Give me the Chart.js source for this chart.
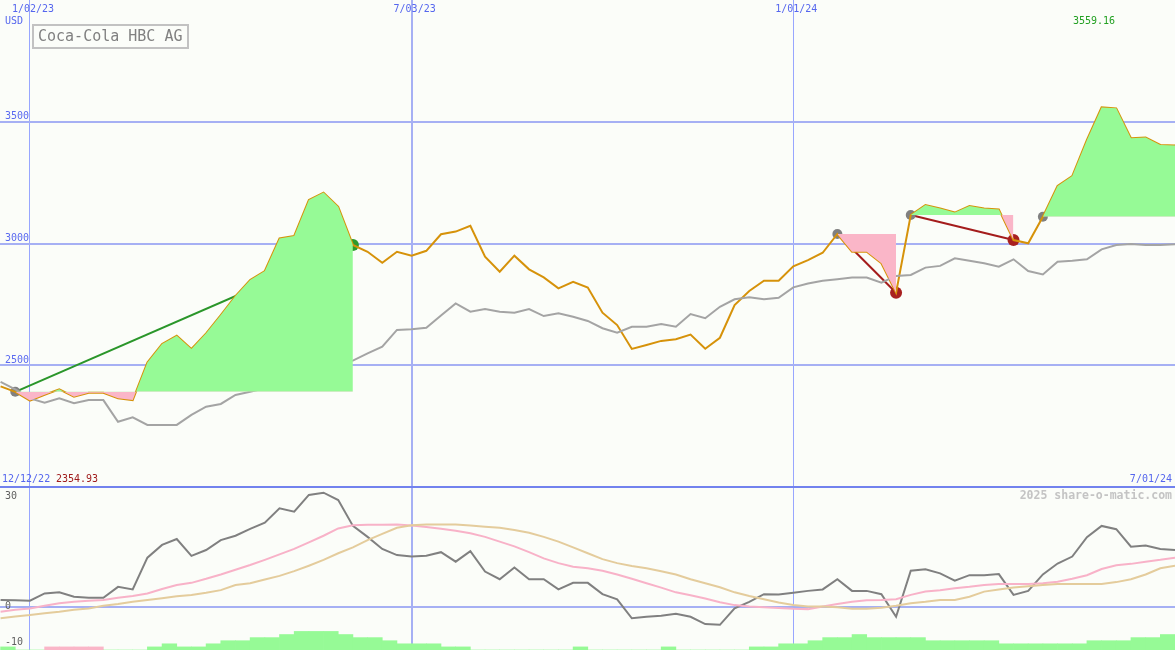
<!DOCTYPE html>
<html><head><meta charset="utf-8">
<script src="https://cdn.jsdelivr.net/npm/chart.js@4.4.1/dist/chart.umd.min.js"></script>
<style>html,body{margin:0;padding:0;background:#fbfdf9;}canvas{display:block;}</style>
</head><body>
<canvas id="c" width="1175" height="650"></canvas>
<script>
// ---- data (weekly, week 0 = 1/02/23) ----
const firstWeek = -2;
const price = [2413,2391,2355,2379,2401,2371,2387,2387,2364,2357,
  2511,2587,2621,2567,2631,2706,2784,2850,2887,3021,
  3031,3179,3209,3151,2994,2966,2921,2966,2950,2970,
  3038,3049,3073,2946,2884,2950,2894,2861,2816,2843,
  2819,2716,2665,2567,2583,2600,2607,2626,2568,2613,
  2747,2805,2847,2847,2906,2932,2962,3039,2966,2966,
  2919,2798,3117,3158,3144,3127,3154,3144,3140,3014,
  3001,3110,3236,3277,3425,3559,3555,3432,3435,3405,3402];
const average = [2432,2401,2364,2346,2364,2344,2357,2357,2268,2286,
  2255,2255,2255,2296,2330,2341,2378,2391,2405,2446,
  2469,2515,2522,2515,2519,2549,2576,2645,2648,2654,
  2704,2754,2720,2731,2720,2716,2731,2702,2713,2699,
  2682,2652,2634,2658,2658,2669,2658,2710,2693,2740,
  2771,2779,2771,2777,2820,2836,2847,2853,2860,2860,
  2839,2867,2871,2901,2908,2939,2929,2919,2905,2935,
  2887,2873,2925,2929,2935,2976,2994,2998,2994,2994,2997];
const oscillator = [2.0,1.9,1.8,3.8,4.1,2.9,2.6,2.6,5.6,4.9,
  13.6,17.1,18.7,14.1,15.7,18.4,19.6,21.5,23.2,27.1,
  26.2,30.8,31.4,29.4,22.3,19.3,16.0,14.3,13.9,14.1,
  15.1,12.5,15.4,9.8,7.7,10.9,7.7,7.7,4.9,6.7,
  6.7,3.6,2.2,-3.0,-2.6,-2.3,-1.8,-2.6,-4.6,-4.8,
  -0.3,1.5,3.6,3.5,4.0,4.5,4.9,7.7,4.5,4.5,
  3.6,-2.6,10.0,10.4,9.3,7.3,8.8,8.8,9.1,3.4,
  4.5,9.0,12.0,13.9,19.2,22.3,21.4,16.6,16.9,16.0,15.7];
const signalFast = [-1.2,-0.7,-0.3,0.4,1.1,1.5,1.8,2.0,2.6,3.1,
  3.8,5.0,6.1,6.7,7.8,9.0,10.3,11.6,13.0,14.5,
  16.0,17.8,19.6,21.6,22.5,22.6,22.6,22.7,22.4,22.0,
  21.5,21.0,20.3,19.3,18.0,16.7,15.1,13.4,12.1,11.1,
  10.7,10.0,9.0,7.8,6.6,5.4,4.1,3.3,2.4,1.4,
  0.6,0.2,0.0,-0.2,-0.4,-0.5,0.2,0.9,1.5,1.9,
  2.0,2.2,3.4,4.3,4.7,5.2,5.6,6.1,6.4,6.4,
  6.4,6.6,7.0,7.8,8.8,10.5,11.5,11.9,12.5,13.0,13.6];
const signalSlow = [-3.0,-2.5,-2.1,-1.6,-1.2,-0.7,-0.3,0.4,0.9,1.5,
  2.0,2.5,3.0,3.4,4.0,4.7,6.1,6.6,7.6,8.6,
  9.9,11.4,13.0,14.8,16.4,18.4,20.1,21.8,22.5,22.7,
  22.7,22.7,22.4,22.1,21.8,21.2,20.4,19.3,18.0,16.4,
  14.8,13.2,12.1,11.3,10.7,9.9,9.0,7.7,6.6,5.5,
  4.1,3.1,2.2,1.3,0.6,0.2,0.2,0.0,-0.4,-0.4,
  -0.1,0.4,1.1,1.5,2.0,2.0,2.9,4.3,4.9,5.4,
  5.8,6.1,6.4,6.4,6.4,6.4,6.9,7.7,9.0,10.7,11.4];
// histogram: one bar per week interval, starting at week -2
const histogram = [1,0,0,-1,-1,-1,-1,0,0,0,
  1,2,1,1,2,3,3,4,4,5,
  6,6,6,5,4,4,3,2,2,2,
  1,1,0,0,0,0,0,0,0,1,
  0,0,0,0,0,1,0,0,0,0,
  0,1,1,2,2,3,4,4,5,4,
  4,4,4,3,3,3,3,3,2,2,
  2,2,2,2,3,3,3,4,4,5];
const trends = [[-1,22],[55,59],[60,67],[69,78]];
const dateTickWeeks = [0,26,52];
const dateTickLabels = ['1/02/23','7/03/23','1/01/24'];
const priceTicks = [2500,3000,3500];
const oscTicks = [30,0,-10];
const startLabel = '12/12/22', endLabel = '7/01/24';
const maxLabel = '3559.16', minLabel = '2354.93';
const titleText = 'Coca-Cola HBC AG', unitText = 'USD', creditText = '2025 share-o-matic.com';
const panelBottom = 2000;

// ---- helpers ----
const pts = arr => arr.map((v, i) => ({x: firstWeek + i, y: v}));
const priceAt = w => price[w - firstWeek];
const lastWeek = firstWeek + price.length - 1;

const GREEN_FILL = '#96fa96', PINK_FILL = '#fab6c8';
const GRID = '#a6b0f4';
const GRID_THIN = '#98a6ff';
const MONO = '"DejaVu Sans Mono", "Liberation Mono", monospace';

const datasets = [];
datasets.push({type:'bar', yAxisID:'y3', data: histogram.map((v,i)=>({x: firstWeek + i + 0.5, y: Math.abs(v)})),
  backgroundColor: histogram.map(v => v < 0 ? PINK_FILL : GREEN_FILL), borderWidth:0,
  barPercentage:1, categoryPercentage:1});
datasets.push({type:'line', yAxisID:'y2', data: pts(signalSlow), borderColor:'#e4cc9c', borderWidth:2, pointRadius:0, tension:0});
datasets.push({type:'line', yAxisID:'y2', data: pts(signalFast), borderColor:'#f8b2c8', borderWidth:2, pointRadius:0, tension:0});
datasets.push({type:'line', yAxisID:'y2', data: pts(oscillator), borderColor:'#808080', borderWidth:2, pointRadius:0, tension:0});
trends.forEach(([s,e]) => {
  const seg = [];
  for (let w = s; w <= e; w++) seg.push({x:w, y:priceAt(w)});
  datasets.push({type:'line', yAxisID:'y', data: seg, borderWidth:0, pointRadius:0, tension:0,
    fill: {target: {value: priceAt(s)}, above: GREEN_FILL, below: PINK_FILL}});
});
datasets.push({type:'line', yAxisID:'y', data: pts(average), borderColor:'#a4a4a4', borderWidth:2, pointRadius:0, tension:0});
datasets.push({type:'line', yAxisID:'y', data: pts(price), borderColor:'#d6920a', borderWidth:2, pointRadius:0, tension:0});
trends.forEach(([s,e]) => {
  const up = priceAt(e) >= priceAt(s);
  const col = up ? '#2a962a' : '#a41c1c';
  datasets.push({type:'line', yAxisID:'y', data:[{x:s,y:priceAt(s)},{x:e,y:priceAt(e)}],
    borderColor: col, borderWidth:2, tension:0,
    pointRadius:[5, e === lastWeek ? 0 : 6], pointBorderWidth:0,
    pointBackgroundColor:['#808080', up ? '#2c9a2c' : '#a82020']});
});

const zeroPad = s => { s.paddingTop = 0; s.paddingBottom = 0; s.paddingLeft = 0; s.paddingRight = 0; };

const overlay = {
  id:'overlay',
  beforeDatasetsDraw(chart){
    const ctx = chart.ctx;
    const yp = Math.round(chart.scales.y.getPixelForValue(panelBottom));
    ctx.save();
    ctx.fillStyle = '#7282ee';
    ctx.fillRect(0, yp - 1, chart.width, 2);
    ctx.restore();
  },
  afterDraw(chart){
    const ctx = chart.ctx, xs = chart.scales.x;
    ctx.save();
    ctx.textBaseline = 'middle';
    ctx.font = '10px ' + MONO;
    ctx.fillStyle = '#5566ee';
    ctx.textAlign = 'center';
    dateTickWeeks.forEach((w,i) => ctx.fillText(dateTickLabels[i], xs.getPixelForValue(w) + 3, 9));
    ctx.textAlign = 'left';
    ctx.fillText(unitText, 5, 21);
    ctx.fillText(startLabel, 2, 479);
    ctx.textAlign = 'right';
    ctx.fillText(endLabel, 1172, 479);
    ctx.textAlign = 'left';
    ctx.fillStyle = '#a01c1c';
    ctx.fillText(minLabel, 56, 479);
    ctx.fillStyle = '#22a022';
    ctx.fillText(maxLabel, 1073, 21);
    ctx.font = 'bold 11.5px ' + MONO;
    ctx.fillStyle = '#c4c4c4';
    ctx.textAlign = 'right';
    ctx.fillText(creditText, 1172, 496);
    // title box
    ctx.strokeStyle = '#c2c2c2';
    ctx.lineWidth = 2;
    ctx.strokeRect(33, 25, 155, 23);
    ctx.font = '15px ' + MONO;
    ctx.fillStyle = '#808080';
    ctx.textAlign = 'left';
    ctx.fillText(titleText, 38, 37);
    ctx.restore();
  }
};

new Chart(document.getElementById('c'), {
  type: 'line',
  data: {datasets},
  options: {
    responsive:false, animation:false, events:[], devicePixelRatio:1,
    layout:{padding:0, autoPadding:false},
    plugins:{legend:{display:false}, tooltip:{enabled:false}},
    scales:{
      x:{type:'linear', min:-2.04, max:78, position:'bottom', offset:false,
        afterBuildTicks: s => { s.ticks = dateTickWeeks.map(v => ({value:v})); },
        afterFit: s => { s.height = 0; zeroPad(s); },
        ticks:{display:false},
        border:{display:false},
        grid:{offset:false, drawTicks:false,
          color: c => (c.tick && c.tick.value === 26) ? GRID : GRID_THIN,
          lineWidth: c => (c.tick && c.tick.value === 26) ? 2 : 1}},
      y:{type:'linear', min:1330.6, max:4000, position:'left',
        afterBuildTicks: s => { s.ticks = priceTicks.map(v => ({value:v})); },
        afterFit: s => { s.width = 0; zeroPad(s); },
        border:{display:false},
        grid:{drawTicks:false, color:GRID, lineWidth:2},
        ticks:{mirror:true, padding:5, labelOffset:-5, color:'#5a6af0', font:{family:MONO, size:10},
          callback: v => String(v)}},
      y2:{type:'linear', min:-11.7, max:166.4, position:'left',
        afterBuildTicks: s => { s.ticks = oscTicks.map(v => ({value:v})); },
        afterFit: s => { s.width = 0; zeroPad(s); },
        border:{display:false},
        grid:{drawTicks:false, lineWidth:2, color: c => (c.tick && c.tick.value === 0) ? GRID : 'rgba(0,0,0,0)'},
        ticks:{mirror:true, padding:5, labelOffset: c => (c.tick && c.tick.value === 0) ? -5 : -1, color:'#606060', font:{family:MONO, size:10},
          callback: v => String(v)}},
      y3:{type:'linear', min:0, max:210, display:false}
    }
  },
  plugins:[overlay]
});
</script>
</body></html>
